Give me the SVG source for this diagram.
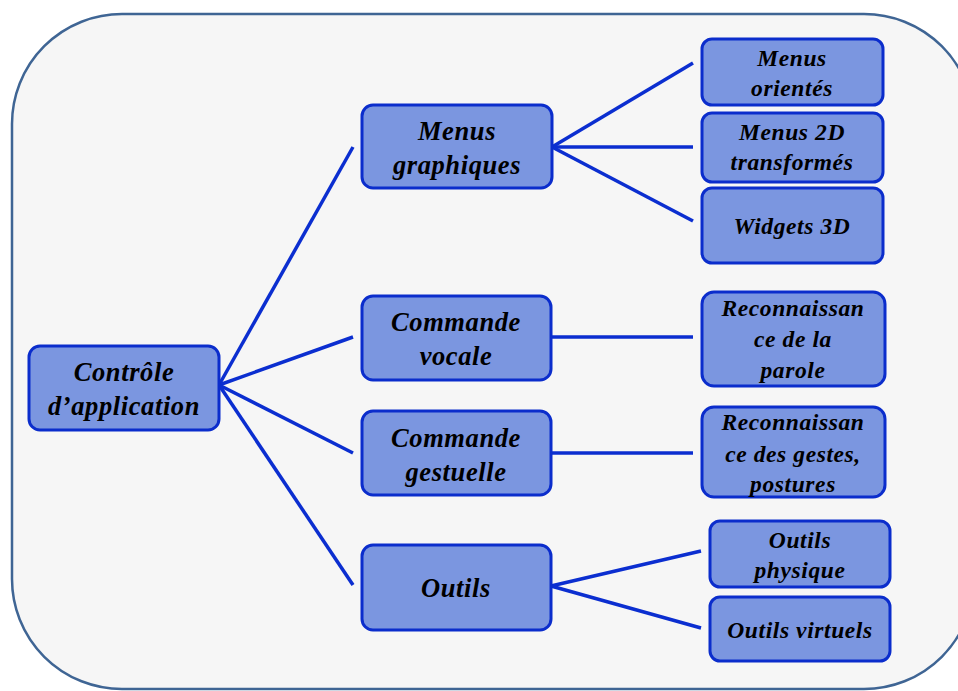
<svg xmlns="http://www.w3.org/2000/svg" width="958" height="691" viewBox="0 0 958 691">
<style>
.bg{fill:#F6F6F6;stroke:#3F6594;stroke-width:2.5}
.n rect{fill:#7B96E0;stroke:#0B2DCC;stroke-width:3}
.n text{font-family:"Liberation Serif","Times New Roman",serif;font-weight:bold;font-style:italic;fill:#000;text-anchor:middle}
.m text{font-size:26.5px;letter-spacing:0.6px}
.c text{font-size:23.5px;letter-spacing:0.6px}
.e line{stroke:#0B2ED0;stroke-width:3.5;stroke-linecap:butt}
</style>
<rect width="958" height="691" fill="#FFFFFF"/>
<rect class="bg" x="12" y="14" width="962" height="675" rx="110" ry="110"/>
<g id="connectors" class="e">
<line x1="219" y1="385" x2="353" y2="147"/>
<line x1="219" y1="385" x2="353" y2="337"/>
<line x1="219" y1="385" x2="353" y2="453"/>
<line x1="219" y1="385" x2="353" y2="585"/>
<line x1="552" y1="147" x2="693" y2="63"/>
<line x1="552" y1="147" x2="693" y2="147"/>
<line x1="552" y1="147" x2="693" y2="221"/>
<line x1="551" y1="337" x2="693" y2="337"/>
<line x1="551" y1="453" x2="693" y2="453"/>
<line x1="551" y1="586" x2="701" y2="551"/>
<line x1="551" y1="586" x2="701" y2="628"/>
</g>
<g id="controle" class="n m"><rect x="29" y="346" width="190" height="84" rx="11"/><text x="124" y="381">Contrôle</text><text x="124" y="415">d’application</text></g>
<g id="menus-graphiques" class="n m"><rect x="362" y="105" width="190" height="83" rx="11"/><text x="457" y="140">Menus</text><text x="457" y="174">graphiques</text></g>
<g id="commande-vocale" class="n m"><rect x="362" y="296" width="189" height="84" rx="11"/><text x="456" y="331">Commande</text><text x="456" y="365">vocale</text></g>
<g id="commande-gestuelle" class="n m"><rect x="362" y="411" width="189" height="84" rx="11"/><text x="456" y="447">Commande</text><text x="456" y="481">gestuelle</text></g>
<g id="outils" class="n m"><rect x="362" y="545" width="189" height="85" rx="11"/><text x="456" y="597">Outils</text></g>
<g id="menus-orientes" class="n c"><rect x="702" y="39" width="181" height="66" rx="10"/><text x="792" y="66">Menus</text><text x="792" y="96">orientés</text></g>
<g id="menus-2d" class="n c"><rect x="702" y="113" width="181" height="69" rx="10"/><text x="792" y="140">Menus 2D</text><text x="792" y="170">transformés</text></g>
<g id="widgets-3d" class="n c"><rect x="702" y="188" width="181" height="75" rx="10"/><text x="792" y="234">Widgets 3D</text></g>
<g id="reco-parole" class="n c"><rect x="702" y="292" width="183" height="94" rx="12"/><text x="793" y="316">Reconnaissan</text><text x="793" y="347">ce de la</text><text x="793" y="378">parole</text></g>
<g id="reco-gestes" class="n c"><rect x="702" y="407" width="183" height="90" rx="12"/><text x="793" y="430">Reconnaissan</text><text x="793" y="462">ce des gestes,</text><text x="793" y="492">postures</text></g>
<g id="outils-physique" class="n c"><rect x="710" y="521" width="180" height="66" rx="10"/><text x="800" y="548">Outils</text><text x="800" y="578">physique</text></g>
<g id="outils-virtuels" class="n c"><rect x="710" y="597" width="180" height="64" rx="10"/><text x="800" y="638">Outils virtuels</text></g>
</svg>
